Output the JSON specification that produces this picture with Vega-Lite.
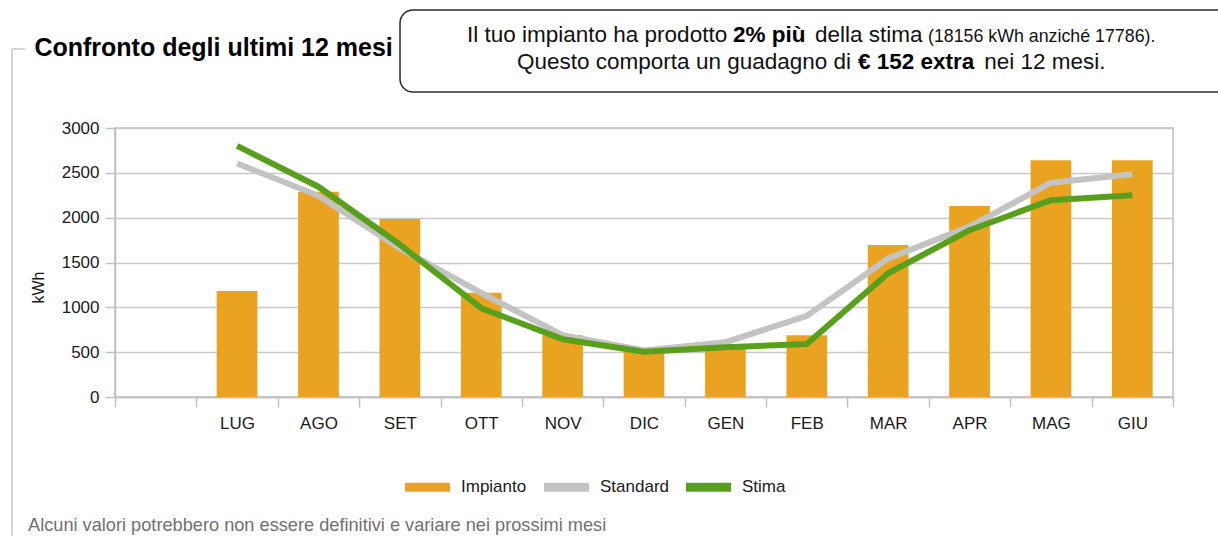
{
  "$schema": "https://vega.github.io/schema/vega-lite/v6.json",
  "width": 1058,
  "height": 269,
  "autosize": {"type": "none"},
  "padding": {"left": 115, "top": 128, "right": 45, "bottom": 139},
  "background": "white",
  "config": {
    "font": "Liberation Sans",
    "view": {"stroke": "#c0c0c0", "strokeWidth": 1.5},
    "axis": {
      "domainColor": "#c0c0c0", "domainWidth": 1.5,
      "tickColor": "#c0c0c0", "tickWidth": 1.5, "tickSize": 10,
      "gridColor": "#c8c8c8", "gridWidth": 1.5,
      "labelFont": "Liberation Sans", "labelFontSize": 17, "labelColor": "#1a1a1a"
    }
  },
  "datasets": {
    "prod": [
      {"mese": "LUG", "serie": "Impianto", "kwh": 1182},
      {"mese": "AGO", "serie": "Impianto", "kwh": 2288},
      {"mese": "SET", "serie": "Impianto", "kwh": 1986},
      {"mese": "OTT", "serie": "Impianto", "kwh": 1163},
      {"mese": "NOV", "serie": "Impianto", "kwh": 690},
      {"mese": "DIC", "serie": "Impianto", "kwh": 512},
      {"mese": "GEN", "serie": "Impianto", "kwh": 560},
      {"mese": "FEB", "serie": "Impianto", "kwh": 690},
      {"mese": "MAR", "serie": "Impianto", "kwh": 1695},
      {"mese": "APR", "serie": "Impianto", "kwh": 2130},
      {"mese": "MAG", "serie": "Impianto", "kwh": 2640},
      {"mese": "GIU", "serie": "Impianto", "kwh": 2640},
      {"mese": "LUG", "serie": "Standard", "kwh": 2605},
      {"mese": "AGO", "serie": "Standard", "kwh": 2245},
      {"mese": "SET", "serie": "Standard", "kwh": 1660},
      {"mese": "OTT", "serie": "Standard", "kwh": 1160},
      {"mese": "NOV", "serie": "Standard", "kwh": 690},
      {"mese": "DIC", "serie": "Standard", "kwh": 520},
      {"mese": "GEN", "serie": "Standard", "kwh": 610},
      {"mese": "FEB", "serie": "Standard", "kwh": 905},
      {"mese": "MAR", "serie": "Standard", "kwh": 1545},
      {"mese": "APR", "serie": "Standard", "kwh": 1900},
      {"mese": "MAG", "serie": "Standard", "kwh": 2390},
      {"mese": "GIU", "serie": "Standard", "kwh": 2485},
      {"mese": "LUG", "serie": "Stima", "kwh": 2800},
      {"mese": "AGO", "serie": "Stima", "kwh": 2345},
      {"mese": "SET", "serie": "Stima", "kwh": 1700},
      {"mese": "OTT", "serie": "Stima", "kwh": 990},
      {"mese": "NOV", "serie": "Stima", "kwh": 645},
      {"mese": "DIC", "serie": "Stima", "kwh": 505},
      {"mese": "GEN", "serie": "Stima", "kwh": 555},
      {"mese": "FEB", "serie": "Stima", "kwh": 590},
      {"mese": "MAR", "serie": "Stima", "kwh": 1380},
      {"mese": "APR", "serie": "Stima", "kwh": 1860},
      {"mese": "MAG", "serie": "Stima", "kwh": 2195},
      {"mese": "GIU", "serie": "Stima", "kwh": 2250}
    ]
  },
  "layer": [
    {
      "data": {"name": "prod"},
      "encoding": {
        "x": {
          "field": "mese", "type": "nominal", "sort": null,
          "scale": {"domain": ["", "LUG", "AGO", "SET", "OTT", "NOV", "DIC", "GEN", "FEB", "MAR", "APR", "MAG", "GIU"], "paddingInner": 0, "paddingOuter": 0},
          "axis": {"title": null, "tickBand": "extent", "labelAngle": 0, "labelPadding": 8, "grid": false}
        },
        "y": {
          "field": "kwh", "type": "quantitative",
          "scale": {"domain": [0, 3000], "nice": false},
          "axis": {
            "title": "kWh", "values": [0, 500, 1000, 1500, 2000, 2500, 3000], "format": "d", "grid": true,
            "labelPadding": 6, "titleFontSize": 16, "titleFontWeight": "normal", "titleColor": "#1a1a1a",
            "titleX": -77, "titleY": 159, "titleAngle": -90, "titleAlign": "center", "titleBaseline": "middle"
          }
        },
        "color": {
          "field": "serie", "type": "nominal",
          "scale": {"domain": ["Impianto", "Standard", "Stima"], "range": ["#EAA321", "#C3C3C3", "#58A01C"]},
          "legend": {
            "orient": "none", "legendX": 290, "legendY": 336.5, "direction": "horizontal", "title": null,
            "symbolType": "M-1,-0.2H1V0.2H-1Z", "symbolSize": 2025, "symbolStrokeWidth": 0, "symbolOpacity": 1,
            "labelFontSize": 17, "labelOffset": 11, "columnPadding": 17, "padding": 0, "labelColor": "#1a1a1a",
            "encode": {"symbols": {"update": {"fill": {"scale": "color", "field": "value"}, "strokeWidth": {"value": 0}}}}
          }
        }
      },
      "layer": [
        {"transform": [{"filter": "datum.serie === 'Impianto'"}], "mark": {"type": "bar", "width": {"band": 0.5}}},
        {"transform": [{"filter": "datum.serie === 'Standard'"}], "mark": {"type": "line", "strokeWidth": 6, "strokeCap": "butt", "strokeJoin": "round"}},
        {"transform": [{"filter": "datum.serie === 'Stima'"}], "mark": {"type": "line", "strokeWidth": 6, "strokeCap": "butt", "strokeJoin": "round"}}
      ]
    },
    {
      "data": {"values": [{}]},
      "layer": [
        {
          "mark": {"type": "rule", "color": "#c8c8c8", "strokeWidth": 1.5},
          "encoding": {
            "x": {"datum": -1.2656, "type": "quantitative", "scale": {"domain": [0, 13], "nice": false, "zero": false}, "axis": null},
            "y": {"datum": 3881, "type": "quantitative", "scale": {"domain": [0, 3000], "nice": false}},
            "y2": {"datum": -1650}
          }
        },
        {
          "mark": {"type": "rule", "color": "#c8c8c8", "strokeWidth": 1.5},
          "encoding": {
            "x": {"datum": -1.2656, "type": "quantitative", "scale": {"domain": [0, 13], "nice": false, "zero": false}, "axis": null},
            "x2": {"datum": -1.106},
            "y": {"datum": 3881, "type": "quantitative", "scale": {"domain": [0, 3000], "nice": false}}
          }
        },
        {
          "mark": {"type": "rect", "fill": "white", "stroke": "#2a2a2a", "strokeWidth": 1.5, "cornerRadius": 13},
          "encoding": {
            "x": {"datum": 3.502, "type": "quantitative", "scale": {"domain": [0, 13], "nice": false, "zero": false}, "axis": null},
            "x2": {"datum": 13.8},
            "y": {"datum": 4316, "type": "quantitative", "scale": {"domain": [0, 3000], "nice": false}},
            "y2": {"datum": 3401}
          }
        },
        {
          "mark": {"type": "text", "text": "Confronto degli ultimi 12 mesi", "align": "left", "baseline": "alphabetic", "fontSize": 25, "fontWeight": "bold", "fill": "#000000"},
          "encoding": {
            "x": {"datum": -0.99, "type": "quantitative", "scale": {"domain": [0, 13], "nice": false, "zero": false}, "axis": null},
            "y": {"datum": 3803, "type": "quantitative", "scale": {"domain": [0, 3000], "nice": false}}
          }
        },
        {
          "mark": {"type": "text", "text": "Il tuo impianto ha prodotto", "align": "left", "baseline": "alphabetic", "fontSize": 22.5, "fill": "#111111"},
          "encoding": {
            "x": {"datum": 4.325, "type": "quantitative", "scale": {"domain": [0, 13], "nice": false, "zero": false}, "axis": null},
            "y": {"datum": 3959, "type": "quantitative", "scale": {"domain": [0, 3000], "nice": false}}
          }
        },
        {
          "mark": {"type": "text", "text": "2% più", "align": "left", "baseline": "alphabetic", "fontSize": 22.5, "fontWeight": "bold", "fill": "#000000"},
          "encoding": {
            "x": {"datum": 7.594, "type": "quantitative", "scale": {"domain": [0, 13], "nice": false, "zero": false}, "axis": null},
            "y": {"datum": 3959, "type": "quantitative", "scale": {"domain": [0, 3000], "nice": false}}
          }
        },
        {
          "mark": {"type": "text", "text": "della stima", "align": "left", "baseline": "alphabetic", "fontSize": 22.5, "fill": "#111111"},
          "encoding": {
            "x": {"datum": 8.6, "type": "quantitative", "scale": {"domain": [0, 13], "nice": false, "zero": false}, "axis": null},
            "y": {"datum": 3959, "type": "quantitative", "scale": {"domain": [0, 3000], "nice": false}}
          }
        },
        {
          "mark": {"type": "text", "text": "(18156 kWh anziché 17786).", "align": "left", "baseline": "alphabetic", "fontSize": 17.8, "fill": "#111111"},
          "encoding": {
            "x": {"datum": 9.99, "type": "quantitative", "scale": {"domain": [0, 13], "nice": false, "zero": false}, "axis": null},
            "y": {"datum": 3959, "type": "quantitative", "scale": {"domain": [0, 3000], "nice": false}}
          }
        },
        {
          "mark": {"type": "text", "text": "Questo comporta un guadagno di", "align": "left", "baseline": "alphabetic", "fontSize": 22.5, "fill": "#111111"},
          "encoding": {
            "x": {"datum": 4.94, "type": "quantitative", "scale": {"domain": [0, 13], "nice": false, "zero": false}, "axis": null},
            "y": {"datum": 3658, "type": "quantitative", "scale": {"domain": [0, 3000], "nice": false}}
          }
        },
        {
          "mark": {"type": "text", "text": "€ 152 extra", "align": "left", "baseline": "alphabetic", "fontSize": 22.5, "fontWeight": "bold", "fill": "#000000"},
          "encoding": {
            "x": {"datum": 9.13, "type": "quantitative", "scale": {"domain": [0, 13], "nice": false, "zero": false}, "axis": null},
            "y": {"datum": 3658, "type": "quantitative", "scale": {"domain": [0, 3000], "nice": false}}
          }
        },
        {
          "mark": {"type": "text", "text": "nei 12 mesi.", "align": "left", "baseline": "alphabetic", "fontSize": 22.5, "fill": "#111111"},
          "encoding": {
            "x": {"datum": 10.68, "type": "quantitative", "scale": {"domain": [0, 13], "nice": false, "zero": false}, "axis": null},
            "y": {"datum": 3658, "type": "quantitative", "scale": {"domain": [0, 3000], "nice": false}}
          }
        },
        {
          "mark": {"type": "text", "text": "Alcuni valori potrebbero non essere definitivi e variare nei prossimi mesi", "align": "left", "baseline": "alphabetic", "fontSize": 18.2, "fill": "#707070"},
          "encoding": {
            "x": {"datum": -1.069, "type": "quantitative", "scale": {"domain": [0, 13], "nice": false, "zero": false}, "axis": null},
            "y": {"datum": -1494, "type": "quantitative", "scale": {"domain": [0, 3000], "nice": false}}
          }
        }
      ]
    }
  ],
  "resolve": {"scale": {"x": "independent"}}
}
